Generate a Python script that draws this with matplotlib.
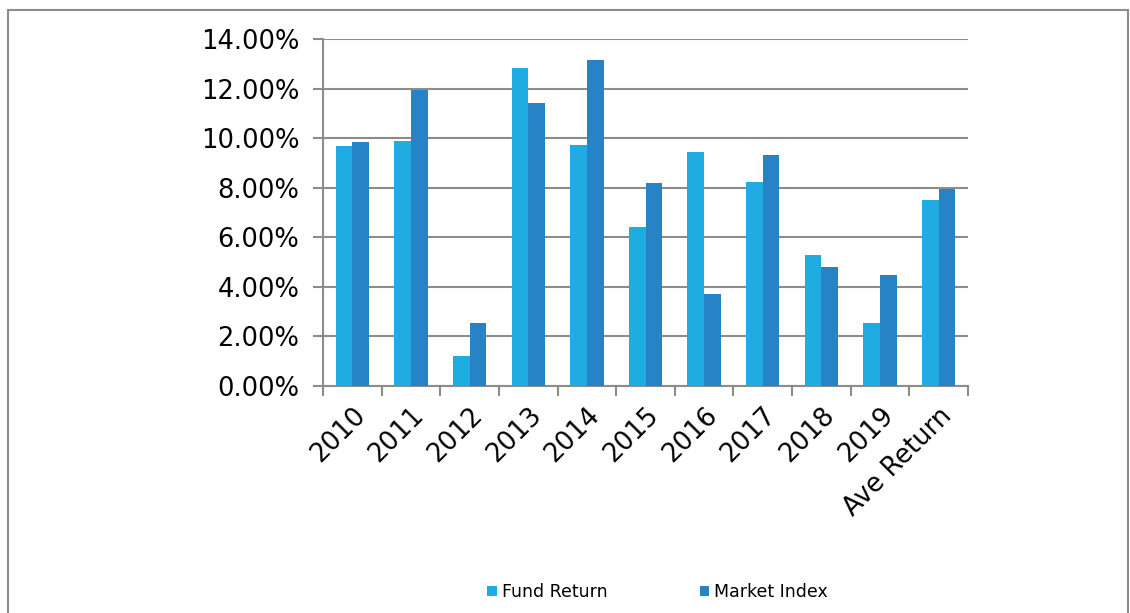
import numpy as np
import matplotlib
matplotlib.use("Agg")
from matplotlib import pyplot as plt
from matplotlib.patches import Rectangle
from matplotlib.ticker import FuncFormatter, FixedLocator

categories = ['2010', '2011', '2012', '2013', '2014', '2015', '2016',
              '2017', '2018', '2019', 'Ave Return']
fund_return = [9.68, 9.89, 1.20, 12.84, 9.74, 6.42, 9.46, 8.24, 5.28, 2.55, 7.51]
market_index = [9.83, 11.96, 2.55, 11.40, 13.15, 8.19, 3.70, 9.33, 4.82, 4.46, 7.93]

fund_color = '#1FACE3'
market_color = '#2683C6'
grid_color = '#8C8C8C'

fig = plt.figure(figsize=(11.3, 6.13), dpi=100)
ax = fig.add_axes([323 / 1130, 1 - 386 / 613, (968 - 323) / 1130, (386 - 39) / 613])

x = np.arange(len(categories))
w = 0.285
ax.bar(x - w / 2, fund_return, w, color=fund_color, label='Fund Return',
       linewidth=0, zorder=3)
ax.bar(x + w / 2, market_index, w, color=market_color, label='Market Index',
       linewidth=0, zorder=3)

ax.set_xlim(-0.5, len(categories) - 0.5)
ax.set_ylim(0, 14)
ax.set_yticks(np.arange(0, 15, 2))
ax.yaxis.set_major_formatter(FuncFormatter(lambda v, p: f'{v:.2f}%'))
ax.yaxis.grid(True, color=grid_color, linewidth=1.5, zorder=0)

ax.set_xticks(x)
ax.set_xticklabels(categories, rotation=45, ha='right', rotation_mode='anchor')
ax.xaxis.set_minor_locator(FixedLocator(np.arange(-0.5, len(categories), 1)))
ax.tick_params(axis='x', which='major', length=0, pad=12, labelsize=18.5)
ax.tick_params(axis='x', which='minor', length=7, color=grid_color, width=1.5)
ax.tick_params(axis='y', length=7, color=grid_color, width=1.5, labelsize=18.5, pad=10)

for s in ['top', 'right']:
    ax.spines[s].set_visible(False)
for s in ['left', 'bottom']:
    ax.spines[s].set_color(grid_color)
    ax.spines[s].set_linewidth(1.5)

fig.legend(loc='center', bbox_to_anchor=(0.582, 1 - 592 / 613), ncol=2,
           frameon=False, fontsize=12.5, handlelength=0.55, handleheight=0.55,
           handletextpad=0.3, columnspacing=5.3)

fig.patches.append(Rectangle((8 / 1130, -0.1), 1 - 10 / 1130, 1.1 - 10 / 613,
                             transform=fig.transFigure, fill=False,
                             edgecolor='#8C8C8C', linewidth=1.5))

fig.savefig('out.png', dpi=100)
